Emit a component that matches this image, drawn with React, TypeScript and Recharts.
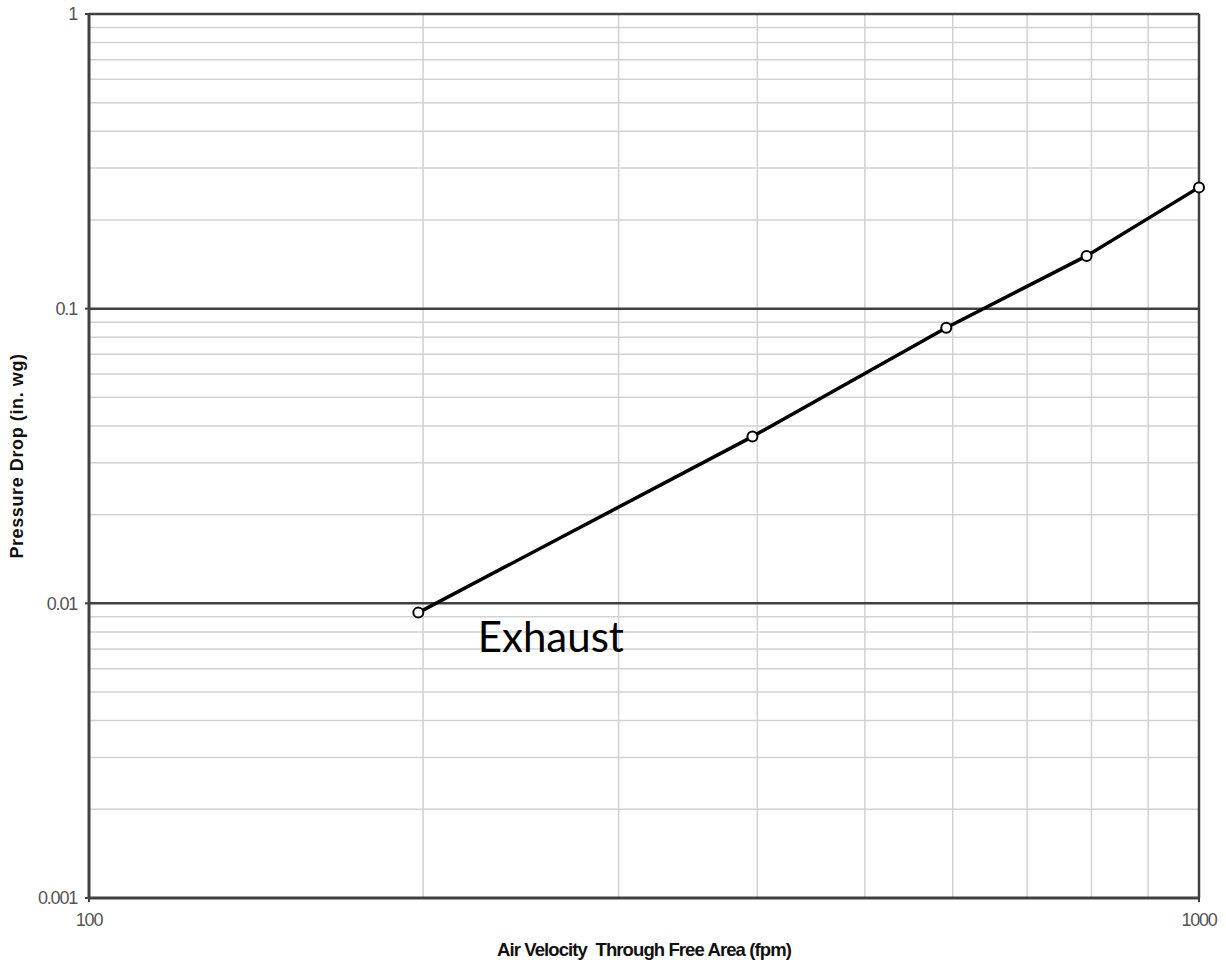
import React from 'react';
import { LineChart, Line, XAxis, YAxis, ReferenceLine, ReferenceDot, Label } from 'recharts';

const velocity = [198, 396, 592, 792, 1000];
const pressureDrop = [0.0093, 0.0368, 0.0862, 0.151, 0.258];
const xTicks = [100, 1000];
const yTicks = [0.001, 0.01, 0.1, 1];
const xMinorGrid = [200, 300, 400, 500, 600, 700, 800, 900];
const yMinorGrid = [
  0.002, 0.003, 0.004, 0.005, 0.006, 0.007, 0.008, 0.009,
  0.02, 0.03, 0.04, 0.05, 0.06, 0.07, 0.08, 0.09,
  0.2, 0.3, 0.4, 0.5, 0.6, 0.7, 0.8, 0.9,
];
const yMajorGrid = [0.01, 0.1, 1];
const seriesName = 'Exhaust';
const xTitle = 'Air Velocity\u00a0 Through Free Area (fpm)';
const yTitle = 'Pressure Drop (in. wg)';
const labelPos = { x: 224, y: 0.00684 };

const data = velocity.map((v, i) => ({ v, p: pressureDrop[i] }));

const DARK = '#404040';
const MINOR = '#d2d2d2';
const FONT = "'Liberation Sans', Arial, sans-serif";

export default function App() {
  return (
    <div style={{ position: 'absolute', left: 0, top: 0, background: '#fff' }}>
      <LineChart
        width={1226}
        height={963}
        data={data}
        margin={{ top: 14, right: 27, bottom: 35, left: 0 }}
      >
        <XAxis
          dataKey="v"
          type="number"
          scale="log"
          domain={[100, 1000]}
          ticks={xTicks}
          axisLine={{ stroke: DARK, strokeWidth: 3 }}
          tickLine={{ stroke: DARK, strokeWidth: 2 }}
          tickSize={4}
          tickMargin={11}
          height={30}
          tick={{ fill: '#555', fontSize: 18, fontFamily: FONT, letterSpacing: -1.2 }}
        >
          <Label
            value={xTitle}
            position="bottom"
            offset={15}
            style={{ fill: '#111', fontSize: 18.5, fontWeight: 'bold', fontFamily: FONT, letterSpacing: -0.9 }}
          />
        </XAxis>
        <YAxis
          type="number"
          scale="log"
          domain={[0.001, 1]}
          ticks={yTicks}
          width={89}
          axisLine={{ stroke: DARK, strokeWidth: 3 }}
          tickLine={{ stroke: DARK, strokeWidth: 2 }}
          tickSize={4}
          tickMargin={8}
          tick={{ fill: '#555', fontSize: 18, fontFamily: FONT, letterSpacing: -1.2 }}
        >
          <Label
            value={yTitle}
            angle={-90}
            position="insideLeft"
            offset={17}
            style={{ textAnchor: 'middle', fill: '#111', fontSize: 18, fontWeight: 'bold', fontFamily: FONT, letterSpacing: 0.6 }}
          />
        </YAxis>
        {yMinorGrid.map((y) => (
          <ReferenceLine key={'ym' + y} y={y} stroke={MINOR} strokeWidth={1.5} />
        ))}
        {xMinorGrid.map((x) => (
          <ReferenceLine key={'xm' + x} x={x} stroke={MINOR} strokeWidth={1.5} />
        ))}
        {yMajorGrid.map((y) => (
          <ReferenceLine key={'yM' + y} y={y} stroke={DARK} strokeWidth={2.5} />
        ))}
        <ReferenceLine x={1000} stroke={DARK} strokeWidth={2.5} />
        <Line
          dataKey="p"
          stroke="#000"
          strokeWidth={3.5}
          isAnimationActive={false}
          dot={{ r: 5, fill: '#fff', stroke: '#000', strokeWidth: 2 }}
          activeDot={false}
        />
        <ReferenceDot
          x={labelPos.x}
          y={labelPos.y}
          r={1}
          fill="none"
          stroke="none"
          label={(props: any) => (
            <text
              x={props.viewBox.x + 1}
              y={props.viewBox.y + 1}
              textAnchor="start"
              fontSize={42}
              fontFamily="Lato, 'Open Sans', sans-serif"
              fill="#000"
            >
              {seriesName}
            </text>
          )}
        />
      </LineChart>
    </div>
  );
}
